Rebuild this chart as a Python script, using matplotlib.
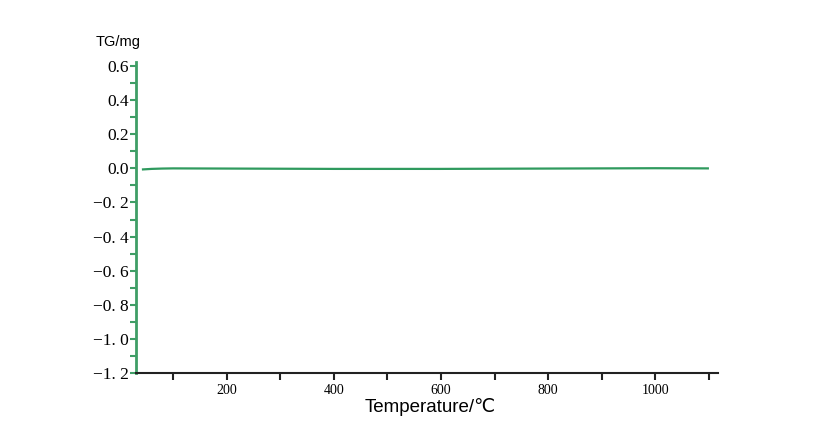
import matplotlib.pyplot as plt
from matplotlib.ticker import MultipleLocator, FixedLocator

# TG curve
temp = [44, 60, 80, 100, 200, 300, 400, 500, 600, 700, 800, 900, 1000, 1098]
tg = [-0.006, -0.003, -0.001, 0.0, -0.001, -0.002, -0.003, -0.003, -0.003, -0.002, -0.001, 0.0, 0.001, 0.0]

yticks = [0.6, 0.4, 0.2, 0.0, -0.2, -0.4, -0.6, -0.8, -1.0, -1.2]
ylabels = ['0.6', '0.4', '0.2', '0.0', '\u22120. 2', '\u22120. 4', '\u22120. 6', '\u22120. 8', '\u22121. 0', '\u22121. 2']
xticks = [200, 400, 600, 800, 1000]

green = '#3f9e66'

fig = plt.figure(figsize=(8.32, 4.46), dpi=100)
ax = fig.add_axes([0.1635, 0.1637, 0.6995, 0.6973])

ax.plot(temp, tg, color='#2f9a5e', lw=1.6)

ax.set_xlim(31, 1117)
ax.set_ylim(-1.2, 0.624)

ax.spines['top'].set_visible(False)
ax.spines['right'].set_visible(False)
ax.spines['left'].set_color(green)
ax.spines['left'].set_linewidth(2.0)
ax.spines['bottom'].set_color('#222222')
ax.spines['bottom'].set_linewidth(1.5)

ax.set_yticks(yticks)
ax.set_yticklabels(ylabels, family='Liberation Serif', fontsize=12.5)
ax.yaxis.set_minor_locator(MultipleLocator(0.1))
ax.tick_params(axis='y', which='both', direction='out', length=4, width=1.5, color=green, pad=1)

ax.set_xticks(xticks)
ax.set_xticklabels([str(v) for v in xticks], family='Liberation Serif', fontsize=10)
ax.xaxis.set_minor_locator(FixedLocator([100, 300, 500, 700, 900, 1100]))
ax.tick_params(axis='x', which='both', direction='out', length=5, width=1.5, color='#222222', pad=3)

fig.text(0.115, 0.905, 'TG/mg', family='Liberation Sans', fontsize=10.5, va='center')
fig.text(0.517, 0.087, 'Temperature/\u2103', family=['Liberation Sans', 'DejaVu Sans'], fontsize=13.5,
         ha='center', va='center')

fig.savefig('out.png', dpi=100)
